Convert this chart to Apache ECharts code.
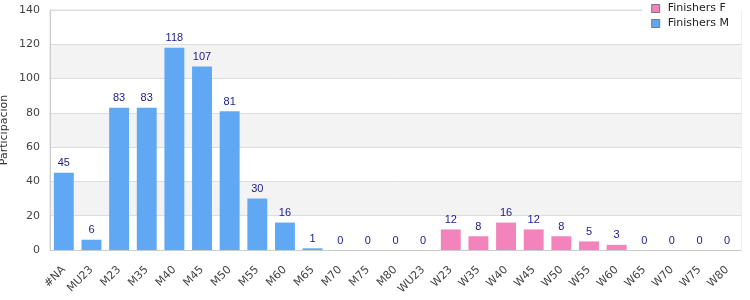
<!DOCTYPE html>
<html>
<head>
<meta charset="utf-8">
<script src="https://cdn.jsdelivr.net/npm/echarts@6/dist/echarts.min.js"></script>
<style>
  html, body { margin: 0; padding: 0; background: #fff; }
  #chart { width: 750px; height: 300px; }
</style>
</head>
<body>
<div id="chart"></div>
<script>
const categories = ['#NA', 'MU23', 'M23', 'M35', 'M40', 'M45', 'M50', 'M55', 'M60', 'M65', 'M70', 'M75', 'M80',
    'WU23', 'W23', 'W35', 'W40', 'W45', 'W50', 'W55', 'W60', 'W65', 'W70', 'W75', 'W80'];
const finishersM = [45, 6, 83, 83, 118, 107, 81, 30, 16, 1, 0, 0, 0, 0,
    null, null, null, null, null, null, null, null, null, null, null];
const finishersF = [null, null, null, null, null, null, null, null, null, null, null, null, null, null,
    12, 8, 16, 12, 8, 5, 3, 0, 0, 0, 0];

const FONT = '"DejaVu Sans", sans-serif';
const LABEL_FONT = '"Liberation Sans", Arial, sans-serif';

const chart = echarts.init(document.getElementById('chart'), null, { renderer: 'canvas' });

const barLabel = {
    show: true,
    position: 'top',
    distance: 4,
    color: '#1a1a8a',
    fontFamily: LABEL_FONT,
    fontSize: 11,
};

chart.setOption({
    animation: false,
    grid: {
        left: 50, right: 9, top: 10, bottom: 50,
        containLabel: false,
        outerBoundsMode: 'none',
        show: true, borderColor: '#dddddd', borderWidth: 1,
    },
    legend: {
        orient: 'vertical',
        right: 9,
        top: 0,
        itemGap: 4,
        itemWidth: 8,
        itemHeight: 8,
        padding: [3, 12, 4, 9],
        backgroundColor: '#ffffff',
        icon: 'rect',
        itemStyle: { borderColor: '#777777', borderWidth: 1 },
        textStyle: { fontFamily: FONT, fontSize: 11, color: '#222222', padding: [0, 0, 0, 3] },
        data: ['Finishers F', 'Finishers M'],
        z: 10,
    },
    xAxis: {
        type: 'category',
        data: categories,
        axisLine: { lineStyle: { color: '#cccccc' } },
        axisTick: { show: false },
        axisLabel: { rotate: 45, interval: 0, fontFamily: FONT, fontSize: 11, color: '#444444', margin: 18 },
    },
    yAxis: {
        type: 'value',
        min: 0, max: 140, interval: 20,
        name: 'Participación',
        nameLocation: 'middle',
        nameGap: 40,
        nameMoveOverlap: false,
        nameTextStyle: { fontFamily: FONT, fontSize: 11, color: '#333333' },
        axisLine: { show: true, lineStyle: { color: '#cccccc' } },
        axisLabel: { fontFamily: FONT, fontSize: 11, color: '#444444', margin: 10 },
        splitLine: { lineStyle: { color: '#dddddd' } },
        splitArea: { show: true, areaStyle: { color: ['#ffffff', '#f3f3f3'] } },
    },
    series: [
        {
            name: 'Finishers F',
            type: 'bar',
            data: finishersF,
            barWidth: '72%',
            barGap: '-100%',
            itemStyle: { color: '#f283bb' },
            label: barLabel,
        },
        {
            name: 'Finishers M',
            type: 'bar',
            data: finishersM,
            barWidth: '72%',
            itemStyle: { color: '#60a8f4' },
            label: barLabel,
        },
    ],
});
</script>
</body>
</html>
